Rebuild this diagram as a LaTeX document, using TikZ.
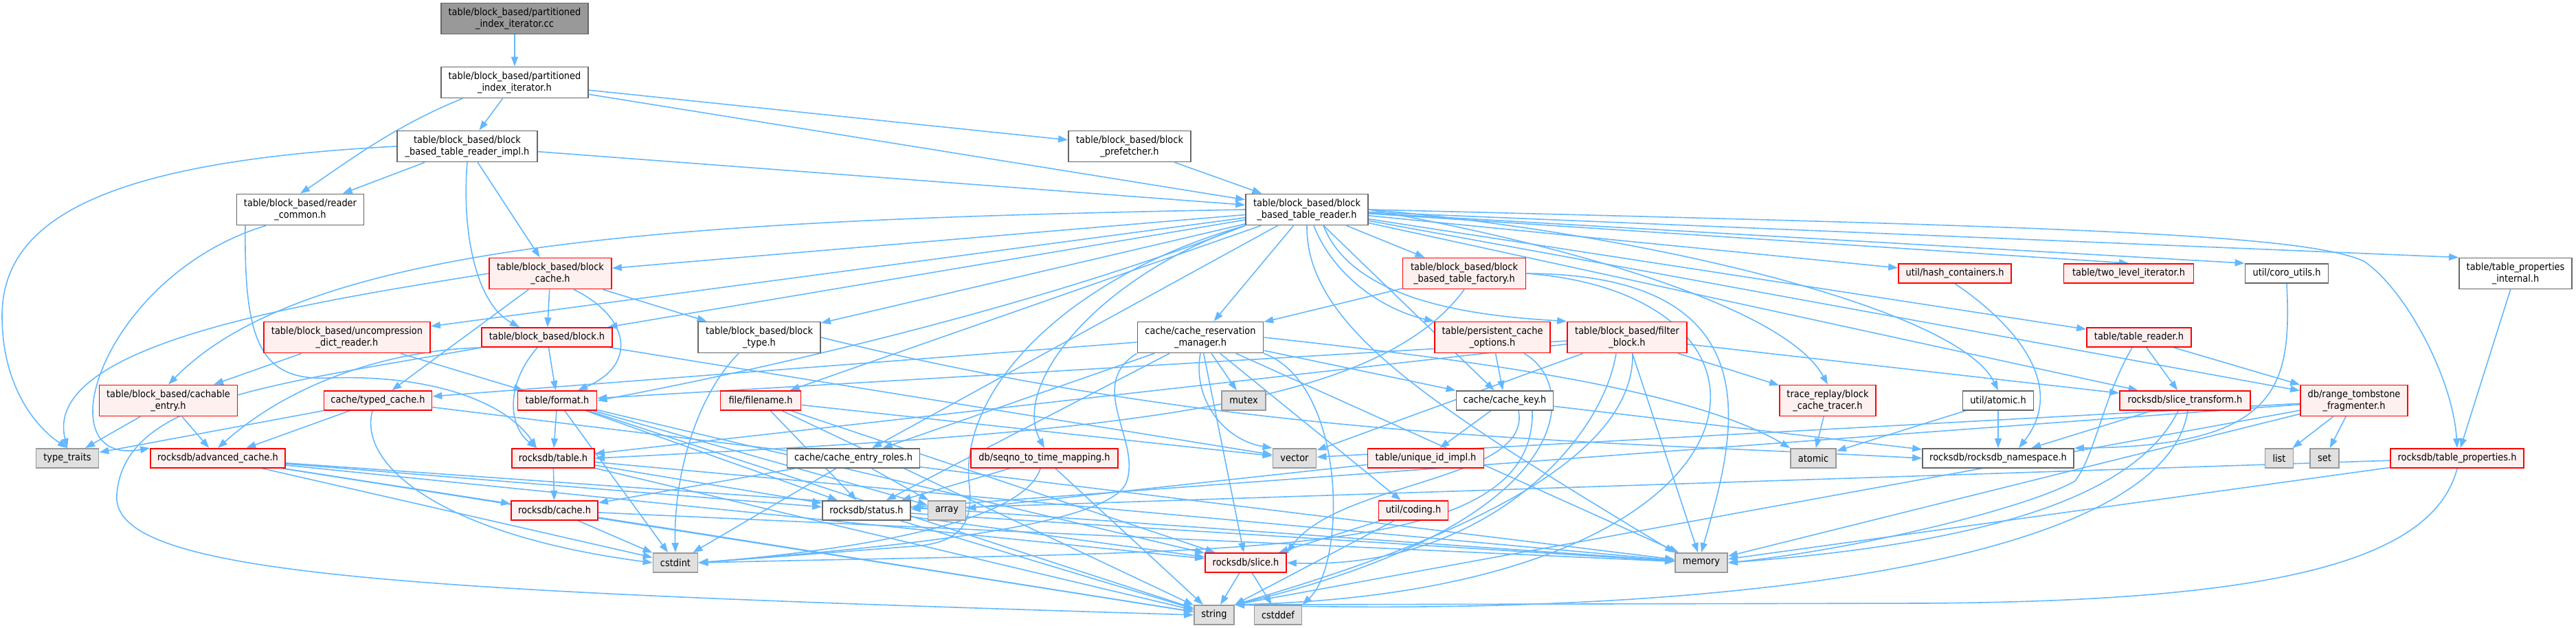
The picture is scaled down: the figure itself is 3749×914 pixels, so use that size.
\documentclass[tikz,border=0pt]{standalone}
\usepackage{fontspec}
\newfontfamily\dxfont[FakeStretch=0.9]{DejaVu Sans}
\usetikzlibrary{arrows.meta}
\definecolor{edgeblue}{RGB}{99,184,255}
\definecolor{docgray}{RGB}{102,102,102}
\definecolor{redfill}{RGB}{255,240,240}
\definecolor{sysfill}{RGB}{224,224,224}
\definecolor{sysgray}{RGB}{153,153,153}
\definecolor{ccfill}{RGB}{153,153,153}
\pgfdeclarelayer{bg}
\pgfsetlayers{bg,main}
\tikzset{
  nd/.style={draw, line width=0.9pt, inner xsep=2pt, inner ysep=1pt, align=center,
    font=\dxfont\fontsize{7.2}{8.4}\selectfont, minimum height=14pt},
  dbl/.style={minimum height=22.5pt},
  docn/.style={nd, draw=docgray, fill=white},
  redn/.style={nd, draw=red, fill=redfill},
  sysn/.style={nd, draw=sysgray, fill=sysfill},
  ccn/.style={nd, draw=docgray, fill=ccfill},
  wd/.style={minimum width=#1*0.5pt},
  edg/.style={draw=edgeblue, line width=0.8pt, -{Triangle[length=7pt,width=5pt]}}
}
\begin{document}
\begin{tikzpicture}[x=0.5pt,y=-0.5pt]
\useasboundingbox (0,0) rectangle (3749,914);
\node[ccn,dbl,wd=214] (cc) at (749,27) {table/block\_based/partitioned\\\_index\_iterator.cc};
\node[docn,dbl,wd=214] (pih) at (749,120) {table/block\_based/partitioned\\\_index\_iterator.h};
\node[docn,dbl,wd=204] (impl) at (680,213) {table/block\_based/block\\\_based\_table\_reader\_impl.h};
\node[docn,dbl,wd=178] (pref) at (1644,213) {table/block\_based/block\\\_prefetcher.h};
\node[docn,dbl,wd=185] (rc) at (437,305) {table/block\_based/reader\\\_common.h};
\node[docn,dbl,wd=178] (bbtr) at (1902,305) {table/block\_based/block\\\_based\_table\_reader.h};
\node[redn,dbl,wd=178] (bc) at (801,398) {table/block\_based/block\\\_cache.h};
\node[redn,dbl,wd=179] (fac) at (2131,398) {table/block\_based/block\\\_based\_table\_factory.h};
\node[redn,wd=164] (hash) at (2845,398) {util/hash\_containers.h};
\node[redn,wd=189] (two) at (3098,398) {table/two\_level\_iterator.h};
\node[docn,wd=121] (coro) at (3328,398) {util/coro\_utils.h};
\node[docn,dbl,wd=164] (tpi) at (3661,398) {table/table\_properties\\\_internal.h};
\node[redn,dbl,wd=242] (ucd) at (505,491) {table/block\_based/uncompression\\\_dict\_reader.h};
\node[redn,wd=190] (blk) at (796,491) {table/block\_based/block.h};
\node[docn,dbl,wd=178] (btype) at (1105,491) {table/block\_based/block\\\_type.h};
\node[docn,dbl,wd=183] (crm) at (1747,491) {cache/cache\_reservation\\\_manager.h};
\node[redn,dbl,wd=168] (pco) at (2172,491) {table/persistent\_cache\\\_options.h};
\node[redn,dbl,wd=174] (fb) at (2368,491) {table/block\_based/filter\\\_block.h};
\node[redn,wd=152] (tr) at (3113,491) {table/table\_reader.h};
\node[redn,dbl,wd=201] (ce) at (245,583) {table/block\_based/cachable\\\_entry.h};
\node[redn,wd=157] (tc) at (550,583) {cache/typed\_cache.h};
\node[redn,wd=115] (fmt) at (811,583) {table/format.h};
\node[redn,wd=117] (fn) at (1107,583) {file/filename.h};
\node[sysn,wd=64] (mutex) at (1810,583) {mutex};
\node[docn,wd=141] (ck) at (2190,583) {cache/cache\_key.h};
\node[redn,dbl,wd=140] (trc) at (2660,583) {trace\_replay/block\\\_cache\_tracer.h};
\node[docn,wd=103] (uat) at (2908,583) {util/atomic.h};
\node[redn,wd=190] (st) at (3180,583) {rocksdb/slice\_transform.h};
\node[redn,dbl,wd=156] (rtf) at (3426,583) {db/range\_tombstone\\\_fragmenter.h};
\node[sysn,wd=91] (tt) at (98,667) {type\_traits};
\node[redn,wd=196] (ac) at (317,667) {rocksdb/advanced\_cache.h};
\node[redn,wd=120] (tbl) at (805,667) {rocksdb/table.h};
\node[docn,wd=193] (cer) at (1242,667) {cache/cache\_entry\_roles.h};
\node[redn,wd=214] (seq) at (1520,667) {db/seqno\_to\_time\_mapping.h};
\node[sysn,wd=63] (vec) at (1884,667) {vector};
\node[redn,wd=169] (uid) at (2075,667) {table/unique\_id\_impl.h};
\node[sysn,wd=66] (atomic) at (2639,667) {atomic};
\node[docn,wd=220] (ns) at (2908,667) {rocksdb/rocksdb\_namespace.h};
\node[sysn,wd=41] (list) at (3317,667) {list};
\node[sysn,wd=42] (set) at (3383,667) {set};
\node[redn,wd=194] (tp) at (3576,667) {rocksdb/table\_properties.h};
\node[redn,wd=126] (cache) at (807,743) {rocksdb/cache.h};
\node[docn,wd=128] (status) at (1261,743) {rocksdb/status.h};
\node[sysn,wd=55] (array) at (1378,743) {array};
\node[redn,wd=101] (coding) at (2057,743) {util/coding.h};
\node[sysn,wd=65] (cstdint) at (983,819) {cstdint};
\node[redn,wd=118] (slice) at (1813,819) {rocksdb/slice.h};
\node[sysn,wd=76] (memory) at (2476,819) {memory};
\node[sysn,wd=58] (string) at (1767,895) {string};
\node[sysn,wd=69] (cstddef) at (1860,895) {cstddef};

\begin{pgfonlayer}{bg}
\foreach \a/\b in {cc/pih, pih/impl, pih/pref, pih/bbtr, impl/rc, impl/bc, impl/bbtr, pref/bbtr,
  bbtr/cer, bbtr/ck, bbtr/crm, bbtr/rtf, bbtr/fn, bbtr/st, bbtr/blk, bbtr/fac, bbtr/bc,
  bbtr/btype, bbtr/ucd, bbtr/tr, bbtr/hash,
  bc/tc, bc/blk, bc/btype, blk/fmt, blk/vec,
  ucd/ce, ucd/fmt, ce/tt, ce/ac, tc/tt, tc/ac, tc/memory,
  fmt/tbl, fmt/array, fmt/cstdint, fmt/string, fmt/slice, fmt/status,
  ac/cstdint, ac/memory, ac/string, ac/cache, ac/slice, ac/status,
  tbl/cache, tbl/memory, tbl/string, tbl/status,
  cache/cstdint, cache/memory, cache/string,
  status/string, status/slice, status/memory, slice/string, slice/cstddef,
  cer/array, cer/cstdint, cer/cache, fn/status, fn/vec, fn/string, fn/slice,
  crm/tc, crm/cer, crm/mutex, crm/slice, crm/memory, crm/ck, crm/coding, crm/status,
  ck/uid, ck/ns, uid/array, seq/status, seq/string, coding/slice, pco/ck,
  fb/memory, fb/vec, fb/st, fb/tbl, fb/fmt, fb/trc,
  trc/atomic, uat/atomic, uat/ns, fac/crm, tpi/tp, tr/st, tr/rtf, st/ns,
  rtf/list, rtf/set, rtf/memory, rtf/vec, rtf/status, tp/memory, tp/status}
  \draw[edg] (\a) -- (\b);
\foreach \a in {coding, rtf}
  \draw[edg] (\a) -- (string.north east);
\draw[edg] (bbtr) -- (two.north);
\draw[edg] (bbtr) -- (coro.north west);
\draw[edg] (bbtr) -- (tpi.north west);
% curved connectors
\draw[edg] ([xshift=-38pt]pih.south) .. controls (570,185) and (500,240) .. (rc.north);
\draw[edg] (impl.south) .. controls (672,330) and (690,440) .. ([xshift=-20pt]blk.north);
\draw[edg] (impl.west) .. controls (150,235) and (3,320) .. (3,460) .. controls (3,560) and (50,620) .. (tt.north);
\draw[edg] ([xshift=17pt]bc.south) .. controls (915,460) and (930,530) .. ([xshift=15pt]fmt.north);
\draw[edg] (bc.west) .. controls (450,440) and (60,500) .. (tt.north);
\draw[edg] ([xshift=-7pt]blk.south) .. controls (735,560) and (740,620) .. ([xshift=-12pt]tbl.north);
\draw[edg] (blk.south west) .. controls (560,510) and (420,560) .. (ac.north);
\draw[edg] (blk.south west) .. controls (400,560) and (180,580) .. (170,720) .. controls (160,840) and (600,860) .. (string.west);
\draw[edg] ([xshift=-25pt]rc.south) .. controls (150,400) and (60,680) .. (ac.north west);
\draw[edg] ([xshift=-40pt]rc.south) .. controls (355,500) and (380,555) .. (480,550) .. controls (640,545) and (740,590) .. ([xshift=-12pt]tbl.north);
\draw[edg] (bbtr.east) .. controls (3000,330) and (3350,340) .. (3440,380) .. controls (3500,420) and (3570,550) .. (tp.north);
\draw[edg] (bbtr.south west) .. controls (1600,400) and (1470,560) .. (seq.north);
\draw[edg] (bbtr.south) .. controls (1900,480) and (2100,600) .. (memory.north west);
\draw[edg] (bbtr.west) .. controls (1000,320) and (450,350) .. (ce.north);
\draw[edg] (bbtr.south west) .. controls (1500,450) and (1100,540) .. (fmt.east);
\draw[edg] (bbtr.south west) .. controls (1560,400) and (1400,560) .. (1410,700) .. controls (1418,760) and (1400,790) .. (1330,795) -- (cstdint.east);
\draw[edg] ([xshift=12pt]bbtr.south) .. controls (1970,440) and (2150,460) .. (fb.north west);
\draw[edg] ([xshift=5pt]bbtr.south) .. controls (1940,400) and (2010,450) .. (pco.north west);
\draw[edg] (bbtr.east) .. controls (2300,360) and (2600,450) .. (trc.north);
\draw[edg] (bbtr.east) .. controls (2400,340) and (2850,450) .. (uat.north);
\draw[edg] (crm.south west) .. controls (1580,560) and (1660,640) .. (1640,700) .. controls (1620,770) and (1250,800) .. (cstdint.east);
\draw[edg] (crm.south) .. controls (1735,580) and (1780,640) .. (vec.north west);
\draw[edg] (crm.south east) .. controls (1960,560) and (1960,820) .. (cstddef.north east);
\draw[edg] (crm.east) .. controls (2100,520) and (2450,560) .. (atomic.north west);
\draw[edg] ([xshift=20pt]ck.south) .. controls (2235,820) and (1800,800) .. (cstdint.east);
\draw[edg] ([xshift=10pt]ck.south) .. controls (2230,700) and (1950,700) .. (slice.north east);
\draw[edg] ([xshift=-3pt]seq.south) .. controls (1490,760) and (1250,800) .. (cstdint.east);
\draw[edg] ([xshift=-15pt]btype.south) .. controls (1010,580) and (980,700) .. (cstdint.north);
\draw[edg] (btype.east) .. controls (1800,640) and (2300,640) .. (ns.west);
\draw[edg] ([xshift=-4pt]tc.south) .. controls (520,680) and (650,780) .. (cstdint.west);
\draw[edg] ([xshift=-8pt]fb.south) .. controls (2330,650) and (2150,830) .. (slice.east);
\draw[edg] ([xshift=4pt]fb.south) .. controls (2380,700) and (2000,820) .. (string.north east);
\draw[edg] ([xshift=23pt]pco.south) .. controls (2300,560) and (2300,760) .. (string.north east);
\draw[edg] (fac.south) .. controls (2000,600) and (1600,630) .. (tbl.east);
\draw[edg] (fac.east) .. controls (2600,400) and (2520,650) .. (memory.north);
\draw[edg] (fac.east) .. controls (2650,430) and (2600,860) .. (string.north east);
\draw[edg] (hash.south) .. controls (2930,470) and (3010,560) .. ([xshift=15pt]ns.north);
\draw[edg] (coro.south) .. controls (3335,560) and (3320,650) .. (ns.north east);
\draw[edg] ([xshift=-5pt]tr.south) .. controls (3060,580) and (3050,660) .. (3020,700) .. controls (2950,740) and (2700,800) .. (memory.east);
\draw[edg] ([xshift=-5pt]st.south) .. controls (3110,720) and (2900,790) .. (memory.east);
\draw[edg] ([xshift=2pt]st.south) .. controls (3150,820) and (2500,900) .. (string.north east);
\draw[edg] (tp.south) .. controls (3540,820) and (3300,875) .. (2800,878) -- (string.north east);
\end{pgfonlayer}
\end{tikzpicture}
\end{document}
